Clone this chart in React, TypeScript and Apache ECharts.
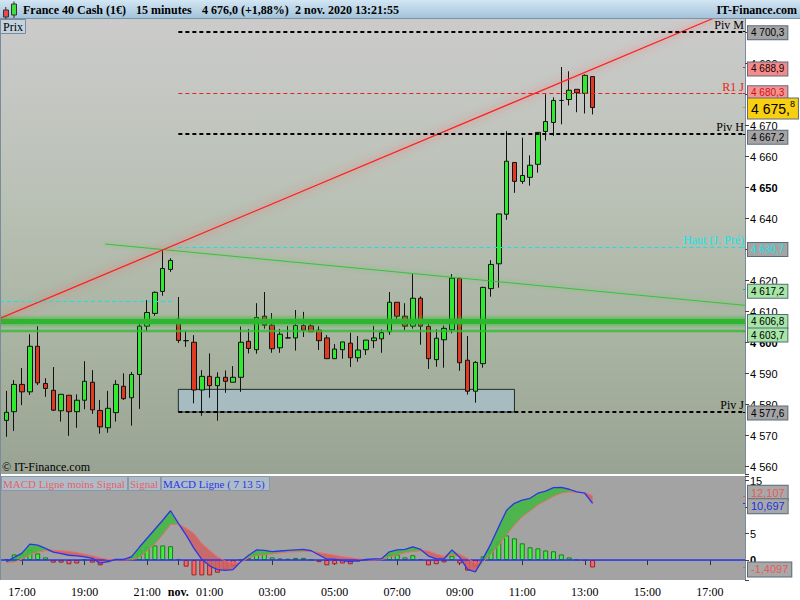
import React, { useEffect, useRef } from "react";
import * as echarts from "echarts";

// ---------------- data ----------------
const opens = [
  4574.9, 4577.7, 4586.5, 4584.1, 4598.8, 4586.8, 4584.6, 4578.0, 4583.0, 4577.7,
  4581.4, 4587.2, 4578.1, 4572.5, 4577.4, 4585.9, 4582.2, 4589.7, 4605.3, 4609.4,
  4616.5, 4623.6, 4607.5, 4600.6, 4600.1, 4584.7, 4589.1, 4586.1, 4588.8, 4587.2,
  4588.8, 4600.4, 4597.7, 4608.5, 4605.6, 4598.3, 4601.5, 4601.5, 4605.5, 4605.4,
  4604.0, 4601.5, 4594.8, 4597.7, 4599.8, 4595.1, 4597.7, 4600.6, 4601.2, 4603.5,
  4613.0, 4608.5, 4605.3, 4614.3, 4605.2, 4594.5, 4600.9, 4604.1, 4620.7, 4594.3,
  4584.3, 4593.2, 4617.4, 4625.4, 4641.4, 4658.1, 4652.0, 4653.3, 4657.5, 4668.1,
  4671.0, 4678.1, 4678.4, 4681.7, 4680.4, 4685.8,
];
const closes = [
  4577.5, 4586.5, 4584.1, 4598.8, 4587.0, 4585.2, 4578.2, 4583.3, 4577.7, 4581.4,
  4587.5, 4578.3, 4572.8, 4578.8, 4586.5, 4581.9, 4589.7, 4605.3, 4609.7, 4616.2,
  4623.9, 4626.5, 4600.7, 4600.6, 4584.7, 4589.1, 4586.1, 4588.8, 4587.5, 4588.8,
  4600.1, 4598.1, 4608.1, 4605.6, 4598.0, 4602.7, 4601.5, 4605.5, 4604.0, 4603.5,
  4600.6, 4594.8, 4597.9, 4600.2, 4595.1, 4597.6, 4600.8, 4601.5, 4603.2, 4613.0,
  4608.5, 4605.3, 4614.3, 4605.3, 4594.8, 4601.4, 4604.6, 4620.8, 4593.5, 4584.3,
  4593.6, 4617.8, 4625.2, 4641.5, 4658.5, 4652.0, 4653.9, 4657.2, 4667.8, 4671.3,
  4678.1, 4678.1, 4681.4, 4680.6, 4686.2, 4675.8,
];
const lows = [
  4569.6, 4571.5, 4579.8, 4583.1, 4586.3, 4582.5, 4577.9, 4574.5, 4569.9, 4572.5,
  4578.5, 4577.0, 4570.6, 4570.9, 4574.5, 4581.5, 4573.2, 4578.6, 4603.5, 4608.6,
  4615.1, 4622.8, 4599.9, 4598.6, 4580.4, 4576.4, 4582.2, 4574.8, 4583.8, 4587.2,
  4584.1, 4596.5, 4596.4, 4604.5, 4596.7, 4596.7, 4601.3, 4597.4, 4601.8, 4603.5,
  4597.6, 4594.8, 4594.8, 4594.8, 4592.1, 4593.8, 4596.0, 4598.2, 4596.7, 4602.5,
  4606.8, 4604.0, 4604.5, 4599.3, 4591.5, 4592.2, 4591.9, 4603.0, 4590.9, 4583.2,
  4580.6, 4591.9, 4614.8, 4617.7, 4639.6, 4648.3, 4651.2, 4650.6, 4654.8, 4665.2,
  4666.7, 4670.4, 4676.5, 4674.3, 4673.9, 4673.6,
];
const highs = [
  4584.4, 4587.9, 4591.8, 4602.7, 4605.3, 4588.5, 4592.1, 4583.3, 4583.0, 4583.3,
  4594.0, 4591.1, 4581.5, 4584.4, 4587.9, 4590.1, 4590.5, 4606.9, 4613.7, 4616.5,
  4629.8, 4627.2, 4614.7, 4603.7, 4602.4, 4591.1, 4596.5, 4590.4, 4591.0, 4592.4,
  4605.2, 4604.4, 4612.7, 4616.3, 4609.5, 4604.4, 4605.4, 4610.5, 4609.9, 4607.0,
  4605.3, 4602.4, 4599.5, 4600.2, 4603.2, 4602.1, 4600.8, 4605.4, 4604.3, 4616.3,
  4613.0, 4612.7, 4622.1, 4614.9, 4606.0, 4604.3, 4605.5, 4622.1, 4620.9, 4602.1,
  4594.0, 4618.0, 4626.6, 4641.5, 4668.2, 4658.1, 4666.1, 4660.4, 4667.8, 4680.1,
  4679.1, 4688.9, 4687.5, 4681.7, 4686.5, 4685.8,
];

const macdLine = [
  -0.3, 0.5, 1.3, 3.0, 2.8, 2.2, 1.5, 1.2, 0.9, 0.8,
  0.6, 0.3, -0.6, -0.3, 0.1, 0.1, 0.6, 2.4, 4.1, 5.8,
  7.5, 9.3, 6.9, 4.7, 2.2, 0.1, -1.1, -1.8, -1.95, -1.8,
  -0.3, 0.9, 1.9, 1.8, 1.6, 1.7, 1.8, 1.9, 2.0, 1.75,
  0.95, 0.15, 0.15, -0.1, -0.3, -0.1, 0.1, 0.2, 0.25, 1.55,
  1.9, 2.0, 2.5, 2.0, 0.75, 0.2, 0.2, 1.9, 0.5, -1.75,
  -2.25, 0.3, 3.1, 6.3, 9.4, 10.7, 11.3, 11.65, 12.6, 13.0,
  13.65, 13.7, 13.35, 12.85, 12.6, 10.697,
];
const signalLine = [
  -0.5, -0.4, 0.2, 1.0, 1.5, 1.75, 1.85, 1.75, 1.6, 1.4,
  1.1, 0.8, 0.4, 0.1, 0.0, 0.0, 0.05, 0.5, 1.7, 3.05,
  4.75, 6.7, 6.8, 6.0, 5.0, 3.1, 1.8, 0.6, -0.2, -0.6,
  -0.4, 0.4, 0.85, 1.0, 1.15, 1.35, 1.5, 1.55, 1.6, 1.65,
  1.4, 1.15, 0.9, 0.6, 0.45, 0.2, 0.05, 0.0, 0.05, 0.6,
  0.9, 1.4, 1.6, 1.75, 1.7, 1.1, 0.7, 1.0, 1.1, 0.3,
  -0.6, -0.35, 1.1, 2.8, 4.75, 6.6, 8.15, 9.25, 10.4, 11.2,
  12.0, 12.6, 12.85, 12.8, 12.72, 12.107,
];
const macdHist = [
  0.2, 1.05, 1.05, 2.0, 1.25, 0.5, -0.5, -0.5, -0.8, -0.65,
  0.05, -0.5, -1.0, -0.4, 0.2, 0.05, 0.65, 2.0, 2.4, 2.75,
  2.75, 2.6, 0.2, -1.25, -2.9, -2.9, -2.9, -2.4, -1.75, -1.15,
  0.05, 0.4, 1.05, 1.2, 0.5, 0.3, 0.25, 0.4, 0.4, 0.05,
  -0.4, -1.0, -0.8, -0.65, -0.8, -0.3, 0.05, 0.2, 0.2, 0.95,
  1.05, 0.5, 0.9, 0.2, -1.0, -0.8, -0.45, 0.8, -0.65, -2.0,
  -1.4, 0.7, 2.0, 3.5, 4.65, 4.1, 3.15, 2.4, 2.2, 1.8,
  1.65, 1.05, 0.5, 0.05, -0.12, -1.4097,
];

function buildTimes(from: string, to: string): string[] {
  const toMin = (s: string) => parseInt(s.slice(0, 2), 10) * 60 + parseInt(s.slice(3), 10);
  const out: string[] = [];
  for (let t = toMin(from); t <= toMin(to); t += 15) {
    out.push(String(Math.floor(t / 60)).padStart(2, "0") + ":" + String(t % 60).padStart(2, "0"));
  }
  return out;
}
const categories = [...buildTimes("16:30", "21:45"), ...buildTimes("00:00", "18:00")];
const xTickLabels = ["17:00", "19:00", "21:00", "00:00", "01:00", "03:00", "05:00", "07:00", "09:00", "11:00", "13:00", "15:00"];
const dayBreakTime = "00:00";
const dayBreakLabel = "nov.";
const boldPriceTicks = [4600, 4650];
const coveredPriceTicks = [4630, 4680, 4700];
const boldMacdTicks = [0];
const coveredMacdTicks = [10];

const priceRange = [4557.6, 4704.7];
const macdRange = [-3.77, 15.85];
const overlayX = [-0.8199, 94.5];

const pivotNames = ["Piv M", "Piv H", "Piv J"];
const pivotValues = [4700.3, 4667.2, 4577.6];
const resistanceName = "R1 J";
const resistanceValue = 4680.3;
const dayHighValue = 4688.9;
const lastPrice = 4675.8;
const prevHighName = "Haut (J. Pré)";
const prevHighValue = 4630.7;
const olderHighValue = 4613.3;
const greenLevels = [4606.8, 4603.7];
const redTrendX = [-0.8199, 94.5];
const redTrendY = [4607.8, 4708.9];
const greenTrendX = [12.61, 94.5];
const greenTrendY = [4631.8, 4612.0];
const greenTrendNow = 4617.2;
const zoneX = [22, 65];
const zoneY = [4577.6, 4584.9];
const sessionStart = 22;
const olderSessionEnd = 21.5;
const macdNow = 10.697;
const signalNow = 12.107;
const histNow = -1.4097;

const titleParts = ["France 40 Cash (1€)", "15 minutes", "4 676,0 (+1,88%)", "2 nov. 2020 13:21:55"];
const brand = "IT-Finance.com";
const copyright = "© IT-Finance.com";
const priceTag = "Prix";
const macdLegend = ["MACD Ligne moins Signal", "Signal", "MACD Ligne ( 7 13 5)"];

// ---------------- helpers ----------------
const SANS = "Liberation Sans";
const SERIF = "Liberation Serif";

function grp(s: string) {
  return s.replace(/\B(?=(\d{3})+(?!\d))/g, " ");
}
function fmt(v: number, dec: number) {
  const [i, d] = Math.abs(v).toFixed(dec).split(".");
  return (v < 0 ? "-" : "") + grp(i) + (d ? "," + d : "");
}

const labelInterval = (_i: number, v: string) => xTickLabels.indexOf(v) >= 0;

function levelLine(x0: number, x1: number, v: number, lineStyle: any, name?: string, nameColor?: string) {
  return [
    {
      coord: [x0, v],
      lineStyle,
      label: name
        ? { show: true, position: "insideEndTop", formatter: name, color: nameColor, fontFamily: SERIF, fontSize: 12, distance: 1 }
        : { show: false },
    },
    { coord: [x1, v] },
  ];
}

function boxLine(v: number, text: string, bg: string, fg: string, tick: string, dy: number, fontSize = 10, rich?: any, lh?: number) {
  return [
    {
      coord: [overlayX[1] - 0.25, v],
      lineStyle: { color: tick, width: 1, type: "solid" },
      label: {
        show: true,
        position: "end",
        distance: 3,
        formatter: text,
        backgroundColor: bg,
        borderColor: "#5b6b7b",
        borderWidth: 1,
        padding: [1, 3, 0, 3],
        color: fg,
        fontSize,
        lineHeight: lh || fontSize + 2,
        fontFamily: SANS,
        offset: [0, dy],
        rich,
      },
    },
    { coord: [overlayX[1], v] },
  ];
}

function buildOption() {
  const candleData = opens.map((o, i) => [o, closes[i], lows[i], highs[i]]);
  const bandBase = macdLine.map((m, i) => Math.min(m, signalLine[i]));
  const bandUp = macdLine.map((m, i) => Math.max(m - signalLine[i], 0));
  const bandDown = macdLine.map((m, i) => Math.max(signalLine[i] - m, 0));
  const histData = macdHist.map((v) => ({
    value: v,
    itemStyle: v >= 0 ? { color: "#42ec42", borderColor: "#1c7a1c" } : { color: "#ef6a6a", borderColor: "#a02222" },
  }));

  const dashBlack = { color: "#000", width: 2, type: [4, 3] };
  const levelData: any[] = [
    levelLine(sessionStart, overlayX[1], pivotValues[0], dashBlack, pivotNames[0], "#000"),
    levelLine(sessionStart, overlayX[1], resistanceValue, { color: "#e82020", width: 1, type: [4, 3] }, resistanceName, "#ee1c1c"),
    levelLine(sessionStart, overlayX[1], pivotValues[1], dashBlack, pivotNames[1], "#000"),
    levelLine(sessionStart, overlayX[1], prevHighValue, { color: "#12e4e4", width: 1, type: [4, 3] }, prevHighName, "#12e4e4"),
    levelLine(overlayX[0], olderSessionEnd, olderHighValue, { color: "#12e4e4", width: 1, type: [4, 3] }),
    levelLine(sessionStart, overlayX[1], pivotValues[2], dashBlack, pivotNames[2], "#000"),
    boxLine(pivotValues[0], fmt(pivotValues[0], 1), "#a4a4a4", "#000", "#000", 1),
    boxLine(dayHighValue, fmt(dayHighValue, 1), "#f28c8c", "#200", "#e82020", 2),
    boxLine(resistanceValue, fmt(resistanceValue, 1), "#f29494", "#d01010", "#e82020", -1),
    boxLine(
      lastPrice,
      "{a|" + fmt(Math.floor(lastPrice), 0) + ",}{s|" + fmt(lastPrice, 1).slice(-1) + "}",
      "#f9cf12",
      "#000",
      "#d0a000",
      1,
      14,
      {
        a: { fontSize: 14, fontFamily: SANS, color: "#000", lineHeight: 19 },
        s: { fontSize: 9, fontFamily: SANS, color: "#000", lineHeight: 19, verticalAlign: "top", padding: [0, 0, 8, 0] },
      },
      19
    ),
    boxLine(pivotValues[1], fmt(pivotValues[1], 1), "#a4a4a4", "#000", "#000", 3),
    boxLine(prevHighValue, fmt(prevHighValue, 1), "#a4a4a4", "#14e6e6", "#12e4e4", 2),
    boxLine(greenTrendNow, fmt(greenTrendNow, 1), "#a6e6a6", "#000", "#2fb52f", 2),
    boxLine(greenLevels[0], fmt(greenLevels[0], 1), "#a6e6a6", "#000", "#2fb52f", 0),
    boxLine(greenLevels[1], fmt(greenLevels[1], 1), "#a6e6a6", "#000", "#2fb52f", 4),
    boxLine(pivotValues[2], fmt(pivotValues[2], 1), "#a4a4a4", "#000", "#000", 1),
  ];

  const macdBoxes: any[] = [
    levelLine(overlayX[0], overlayX[1], 0, { color: "#2a36e6", width: 1.5, type: "solid" }),
    boxLine(signalNow, fmt(signalNow, 3), "#a8a8a8", "#e85a5a", "#e85a5a", -3, 11),
    boxLine(macdNow, fmt(macdNow, 3), "#a8a8a8", "#2030e0", "#2030e0", 3, 11),
    boxLine(histNow, fmt(histNow, 4), "#a8a8a8", "#e85a5a", "#e85a5a", 2, 11),
  ];

  const mainBg = {
    type: "linear", x: 0, y: 0, x2: 0, y2: 1,
    colorStops: [
      { offset: 0, color: "#cbcbcb" },
      { offset: 0.35, color: "#bcc2b8" },
      { offset: 0.7, color: "#a9b4a2" },
      { offset: 1, color: "#99a393" },
    ],
  };
  const headerBg = {
    type: "linear", x: 0, y: 0, x2: 0, y2: 1,
    colorStops: [
      { offset: 0, color: "#d3e6f3" },
      { offset: 1, color: "#a3c3da" },
    ],
  };
  const txt = (text: string, x: number, y: number, font: string, fill: string, align = "left") => ({
    type: "text",
    z: 100,
    silent: true,
    style: { text, x, y, font, fill, align, textAlign: align, verticalAlign: "middle", textVerticalAlign: "middle" },
  });
  const legendX = [1, 128, 161, 270];
  const titleX = [23, 136, 202, 295];

  const graphics: any[] = [
    { type: "rect", z: -10, silent: true, shape: { x: 0, y: 18, width: 745, height: 456 }, style: { fill: mainBg } },
    { type: "rect", z: -10, silent: true, shape: { x: 0, y: 476, width: 745, height: 104 }, style: { fill: "#a3a3a3" } },
    { type: "line", z: 100, silent: true, shape: { x1: 0.5, y1: 18, x2: 0.5, y2: 580 }, style: { stroke: "#7b8b9b", lineWidth: 1 } },
    { type: "rect", z: 100, silent: true, shape: { x: 0, y: 0, width: 800, height: 18 }, style: { fill: headerBg } },
    { type: "line", z: 100, silent: true, shape: { x1: 0, y1: 18.5, x2: 800, y2: 18.5 }, style: { stroke: "#7b93a6", lineWidth: 1 } },
    // header icon
    { type: "line", z: 101, silent: true, shape: { x1: 5.8, y1: 7, x2: 5.8, y2: 19 }, style: { stroke: "#333", lineWidth: 1 } },
    { type: "rect", z: 102, silent: true, shape: { x: 3.5, y: 10, width: 5, height: 7 }, style: { fill: "#e84a4a", stroke: "#333", lineWidth: 1 } },
    { type: "line", z: 101, silent: true, shape: { x1: 14, y1: 1.5, x2: 14, y2: 18 }, style: { stroke: "#333", lineWidth: 1 } },
    { type: "rect", z: 102, silent: true, shape: { x: 11.5, y: 4, width: 5, height: 11 }, style: { fill: "#3ee03e", stroke: "#333", lineWidth: 1 } },
    ...titleParts.map((t, k) => txt(t, titleX[k], 10, `bold 12px "${SERIF}"`, "#000")),
    txt(brand, 797, 10, `bold 12px "${SERIF}"`, "#000", "right"),
    // Prix tag
    { type: "rect", z: 100, silent: true, shape: { x: 0.5, y: 19.5, width: 25, height: 14 }, style: { fill: "#c3d3df", stroke: "#7b8b9b", lineWidth: 1 } },
    txt(priceTag, 3, 27, `12px "${SERIF}"`, "#000"),
    txt(copyright, 2, 467, `12px "${SERIF}"`, "#000"),
    // MACD legend
    ...macdLegend.map((_, k) => ({
      type: "rect", z: 100, silent: true,
      shape: { x: legendX[k] + 0.5, y: 476.5, width: legendX[k + 1] - legendX[k] - 1, height: 14 },
      style: { fill: "#adbcc8", stroke: "#8898a8", lineWidth: 1 },
    })),
    txt(macdLegend[0], 3, 484, `11px "${SERIF}"`, "#e86262"),
    txt(macdLegend[1], 130, 484, `11px "${SERIF}"`, "#e86262"),
    txt(macdLegend[2], 163, 484, `11px "${SERIF}"`, "#2a36e6"),
  ];

  const noAxis = { show: false };
  const overlayLine = (xs: number[], ys: number[], lineStyle: any, z = 3) => ({
    type: "line",
    xAxisIndex: 2,
    yAxisIndex: 2,
    z,
    symbol: "none",
    clip: true,
    silent: true,
    data: [[xs[0], ys[0]], [xs[1], ys[1]]],
    lineStyle,
  });

  return {
    animation: false,
    graphic: graphics,
    grid: [
      { left: 2.5, top: 18, width: 742.5, height: 456, outerBoundsMode: "none", containLabel: false },
      { left: 2.5, top: 476, width: 742.5, height: 104, outerBoundsMode: "none", containLabel: false },
      { left: 0, top: 18, width: 745, height: 456, outerBoundsMode: "none", containLabel: false },
      { left: 0, top: 476, width: 745, height: 104, outerBoundsMode: "none", containLabel: false },
    ],
    xAxis: [
      { type: "category", gridIndex: 0, data: categories, boundaryGap: true, ...noAxis },
      {
        type: "category",
        gridIndex: 1,
        data: categories,
        boundaryGap: true,
        axisLine: { show: true, lineStyle: { color: "#7b8b9b" } },
        axisTick: { show: true, alignWithLabel: true, interval: labelInterval, length: 5, lineStyle: { color: "#333" } },
        axisLabel: {
          interval: labelInterval,
          formatter: (v: string) => (v === dayBreakTime ? "{b|" + dayBreakLabel + "}" : v),
          color: "#000",
          fontFamily: SERIF,
          fontSize: 12,
          margin: 6,
          rich: { b: { fontWeight: "bold", fontFamily: SERIF, fontSize: 12, color: "#000" } },
        },
        splitLine: { show: false },
      },
      { type: "value", gridIndex: 2, min: overlayX[0], max: overlayX[1], ...noAxis },
      { type: "value", gridIndex: 3, min: overlayX[0], max: overlayX[1], ...noAxis },
    ],
    yAxis: [
      {
        type: "value",
        gridIndex: 0,
        position: "right",
        min: priceRange[0],
        max: priceRange[1],
        minInterval: 10,
        maxInterval: 10,
        splitLine: { show: false },
        axisLine: { show: true, lineStyle: { color: "#7b8b9b" } },
        axisTick: { show: true, length: 4, lineStyle: { color: "#444" } },
        axisLabel: {
          margin: 5,
          color: "#000",
          fontSize: 11,
          fontFamily: SANS,
          formatter: (v: number) => {
            const r = Math.round(v);
            if (Math.abs(v - Math.round(v / 10) * 10) > 1e-6) return "";
            if (coveredPriceTicks.indexOf(r) >= 0) return "";
            const t = grp(String(r));
            return boldPriceTicks.indexOf(r) >= 0 ? "{b|" + t + "}" : t;
          },
          rich: { b: { fontWeight: "bold", fontSize: 11, fontFamily: SANS, color: "#000" } },
        },
      },
      {
        type: "value",
        gridIndex: 1,
        position: "right",
        min: macdRange[0],
        max: macdRange[1],
        minInterval: 5,
        maxInterval: 5,
        splitLine: { show: false },
        axisLine: { show: true, lineStyle: { color: "#7b8b9b" } },
        axisTick: { show: true, length: 4, lineStyle: { color: "#444" } },
        axisLabel: {
          margin: 5,
          color: "#000",
          fontSize: 11,
          fontFamily: SANS,
          formatter: (v: number) => {
            const r = Math.round(v);
            if (Math.abs(v - Math.round(v / 5) * 5) > 1e-6) return "";
            if (coveredMacdTicks.indexOf(r) >= 0) return "";
            const t = String(r);
            return boldMacdTicks.indexOf(r) >= 0 ? "{b|" + t + "}" : t;
          },
          rich: { b: { fontWeight: "bold", fontSize: 11, fontFamily: SANS, color: "#000" } },
        },
      },
      { type: "value", gridIndex: 2, min: priceRange[0], max: priceRange[1], ...noAxis },
      { type: "value", gridIndex: 3, min: macdRange[0], max: macdRange[1], ...noAxis },
    ],
    series: [
      // zone rectangle under the candles
      {
        type: "line",
        xAxisIndex: 2,
        yAxisIndex: 2,
        z: 1,
        symbol: "none",
        silent: true,
        data: [[overlayX[1], priceRange[0]]],
        lineStyle: { opacity: 0 },
        markArea: {
          silent: true,
          itemStyle: { color: "rgba(166,190,196,0.9)", borderColor: "#1c2a2a", borderWidth: 1 },
          label: { show: false },
          data: [[{ coord: [zoneX[0], zoneY[1]] }, { coord: [zoneX[1], zoneY[0]] }]],
        },
      },
      {
        type: "candlestick",
        xAxisIndex: 0,
        yAxisIndex: 0,
        z: 2,
        barWidth: 5,
        data: candleData,
        itemStyle: { color: "#30ea30", color0: "#e03a22", borderColor: "#111", borderColor0: "#111", borderWidth: 1 },
      },
      // horizontal green levels (glow drawn as wider translucent strokes: SVG filters vanish on flat lines)
      overlayLine([overlayX[0], overlayX[1]], [greenLevels[0], greenLevels[0]], { color: "rgba(50,190,50,0.22)", width: 12 }),
      overlayLine([overlayX[0], overlayX[1]], [greenLevels[0], greenLevels[0]], { color: "rgba(50,190,50,0.35)", width: 8 }),
      overlayLine([overlayX[0], overlayX[1]], [greenLevels[0], greenLevels[0]], { color: "#2fb52f", width: 5 }),
      overlayLine([overlayX[0], overlayX[1]], [greenLevels[1], greenLevels[1]], { color: "rgba(50,190,50,0.25)", width: 4 }),
      overlayLine([overlayX[0], overlayX[1]], [greenLevels[1], greenLevels[1]], { color: "#34bb34", width: 1.5 }),
      overlayLine(greenTrendX, greenTrendY, { color: "#3cc03c", width: 1, shadowBlur: 4, shadowColor: "rgba(60,200,60,0.6)" }),
      overlayLine(redTrendX, redTrendY, { color: "#ff2020", width: 1.3, shadowBlur: 9, shadowColor: "rgba(255,70,70,0.95)" }),
      {
        type: "line",
        xAxisIndex: 2,
        yAxisIndex: 2,
        z: 4,
        symbol: "none",
        data: [[overlayX[1], priceRange[0]]],
        lineStyle: { opacity: 0 },
        markLine: { silent: true, symbol: ["none", "none"], animation: false, label: { show: false }, data: levelData },
      },
      // MACD band between line and signal
      {
        type: "line", xAxisIndex: 1, yAxisIndex: 1, stack: "band", stackStrategy: "all",
        symbol: "none", data: bandBase, lineStyle: { opacity: 0 },
      },
      {
        type: "line", xAxisIndex: 1, yAxisIndex: 1, stack: "band", stackStrategy: "all",
        symbol: "none", data: bandUp, lineStyle: { opacity: 0 }, areaStyle: { color: "rgba(64,184,64,0.85)", opacity: 1 },
      },
      {
        type: "line", xAxisIndex: 1, yAxisIndex: 1, stack: "band", stackStrategy: "all",
        symbol: "none", data: bandDown, lineStyle: { opacity: 0 }, areaStyle: { color: "rgba(208,96,96,0.85)", opacity: 1 },
      },
      { type: "bar", xAxisIndex: 1, yAxisIndex: 1, barWidth: 5, data: histData, itemStyle: { borderWidth: 1 } },
      {
        type: "line",
        xAxisIndex: 3,
        yAxisIndex: 3,
        z: 4,
        symbol: "none",
        data: [[overlayX[1], macdRange[0]]],
        lineStyle: { opacity: 0 },
        markLine: { silent: true, symbol: ["none", "none"], animation: false, label: { show: false }, data: macdBoxes },
      },
      { type: "line", xAxisIndex: 1, yAxisIndex: 1, z: 5, symbol: "none", data: signalLine, lineStyle: { color: "#f06a6a", width: 1 } },
      { type: "line", xAxisIndex: 1, yAxisIndex: 1, z: 5, symbol: "none", data: macdLine, lineStyle: { color: "#2a36e6", width: 1.3 } },
    ],
  };
}

export default function App() {
  const ref = useRef<HTMLDivElement>(null);
  useEffect(() => {
    if (!ref.current) return;
    const chart = echarts.init(ref.current, null, { renderer: "svg" });
    chart.setOption(buildOption() as any);
    return () => chart.dispose();
  }, []);
  return <div ref={ref} style={{ position: "fixed", left: 0, top: 0, width: 800, height: 600, background: "#fff" }} />;
}
